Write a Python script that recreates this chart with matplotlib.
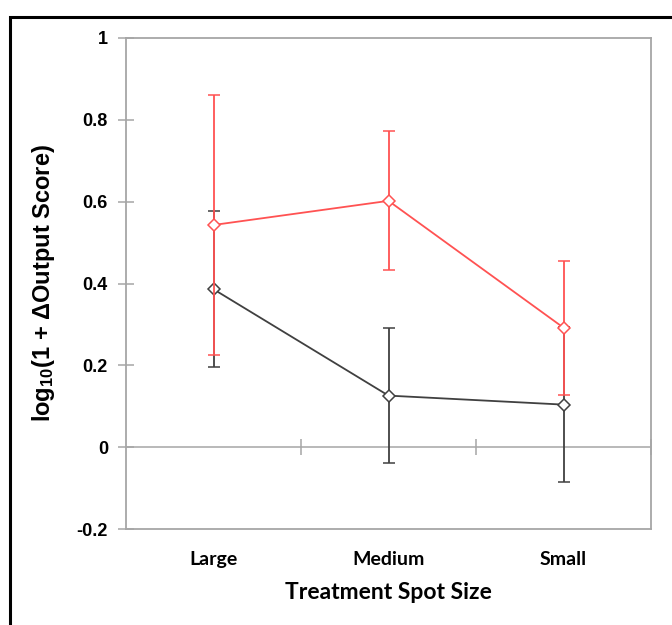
import matplotlib
matplotlib.use('Agg')
import matplotlib.pyplot as plt
from matplotlib.patches import Rectangle
# Import modules.

categories = ['Large', 'Medium', 'Small']

red_means = [0.543, 0.602, 0.292]
red_errors = [0.318, 0.170, 0.164]
# Red series with error bars.

black_means = [0.386, 0.126, 0.104]
black_errors = [0.190, 0.165, 0.190]
# Black series with error bars.

plt.rcParams['mathtext.fontset'] = 'custom'
plt.rcParams['mathtext.bf'] = 'Liberation Sans:bold'
plt.rcParams['mathtext.rm'] = 'Liberation Sans:bold'
plt.rcParams['mathtext.default'] = 'bf'

fig = plt.figure(figsize = (6.72, 6.25), dpi = 100)
ax = fig.add_axes([126 / 672, 1 - 529 / 625, 525 / 672, 491 / 625])
# Figure and plot area.

fig.add_artist(Rectangle((10 / 672, -0.1), 1.2, 1 - 17 / 625 + 0.1, transform = fig.transFigure,
                         fill = False, edgecolor = 'black', linewidth = 2.2, clip_on = False))
# Outer frame.

x = range(len(categories))
grey = '#a6a6a6'

ax.axhline(0, color = grey, linewidth = 1.1, zorder = 1)
zero_axis = ax.secondary_xaxis(1 / 6)
zero_axis.set_xticks([0.5, 1.5, 2.5])
zero_axis.set_xticklabels([])
zero_axis.tick_params(direction = 'inout', length = 11, width = 1.1, color = grey)
zero_axis.spines['bottom'].set_visible(False)
zero_axis.spines['top'].set_visible(False)
# Zero line with category separators.

ax.errorbar(x, black_means, yerr = black_errors, color = '#404040', linewidth = 1.3, elinewidth = 1.3,
            capsize = 4, capthick = 1.3, marker = 'D', markersize = 6.5, markerfacecolor = 'white',
            markeredgecolor = '#404040', markeredgewidth = 1.1, zorder = 3)
ax.errorbar(x, red_means, yerr = red_errors, color = '#ff5252', linewidth = 1.3, elinewidth = 1.3,
            capsize = 4, capthick = 1.3, marker = 'D', markersize = 6.5, markerfacecolor = 'white',
            markeredgecolor = '#ff5252', markeredgewidth = 1.1, zorder = 4)
# Plot both series.

ax.set_xlim(-0.5, 2.5)
ax.set_ylim(-0.2, 1)
ax.set_yticks([-0.2, 0, 0.2, 0.4, 0.6, 0.8, 1])
ax.set_yticklabels(['-0.2', '0', '0.2', '0.4', '0.6', '0.8', '1'], fontsize = 13,
                   fontweight = 'bold', family = 'Liberation Sans')
ax.set_xticks(list(x))
ax.set_xticklabels(categories, fontsize = 14, fontweight = 'bold', family = 'Lato')
ax.tick_params(axis = 'x', length = 0, pad = 16)
ax.tick_params(axis = 'y', direction = 'inout', length = 12, width = 1.1, color = grey, pad = 7)
for side in ['left', 'right', 'top', 'bottom']:
    ax.spines[side].set_color(grey)
    ax.spines[side].set_linewidth(1.3)
# Axis limits, ticks and frame.

ax.set_xlabel('Treatment Spot Size', fontsize = 16.5, fontweight = 'bold', family = 'Lato', labelpad = 10)
ax.set_ylabel('log$_{10}$(1 + ΔOutput Score)', fontsize = 17, fontweight = 'bold',
              family = 'Liberation Sans', labelpad = 14)
# Axis labels.

plt.savefig('out.png', dpi = 100)
